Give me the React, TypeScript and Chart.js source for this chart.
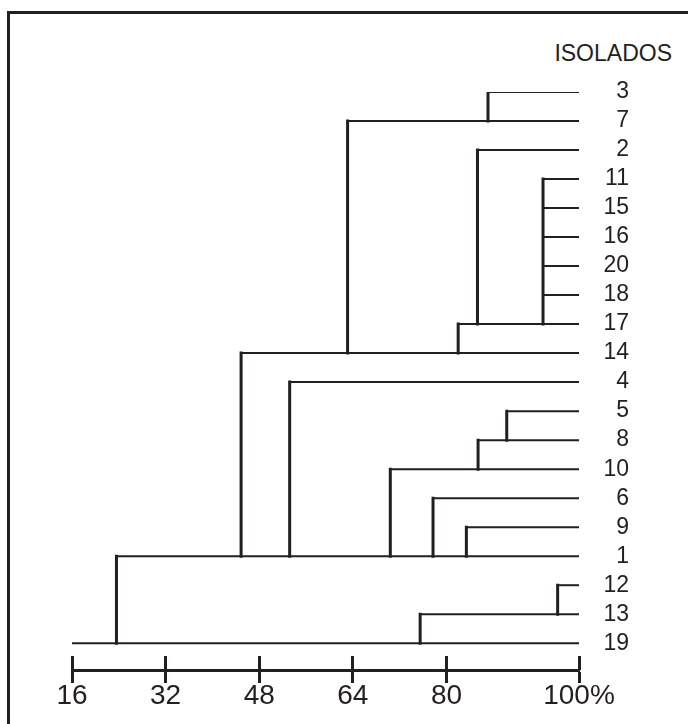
import React, { useEffect, useRef } from 'react';
import { Chart, registerables } from 'chart.js';

Chart.register(...registerables);

// Leaves (isolates), top to bottom
const LEAVES = ['3', '7', '2', '11', '15', '16', '20', '18', '17', '14', '4', '5', '8', '10', '6', '9', '1', '12', '13', '19'];

// Merge (similarity) levels and the rows they join
const MERGE_HEIGHTS = [87.1, 96.5, 85.3, 82.0, 63.1, 90.3, 85.4, 70.4, 77.7, 83.4, 53.2, 44.9, 99.0, 75.5, 23.6];
const MERGE_MEMBERS = [
  ['3', '7'],
  ['11', '15', '16', '20', '18', '17'],
  ['2', '17'],
  ['17', '14'],
  ['7', '14'],
  ['5', '8'],
  ['8', '10'],
  ['10', '1'],
  ['6', '1'],
  ['9', '1'],
  ['4', '1'],
  ['14', '1'],
  ['12', '13'],
  ['13', '19'],
  ['1', '19'],
];

// Root stem runs along this row back to the axis origin
const STEM_ROW = '19';
const STEM_START = 16;
// Leaves end at the "100%" mark
const LEAF_END = 102.65;

const TICK_VALUES = [16, 32, 48, 64, 80, 102.65];
const TICK_LABELS = ['16', '32', '48', '64', '80', '100%'];
const HEADER = 'ISOLADOS';

const INK = '#231f20';
const FONT = '"Liberation Sans", Arial, Helvetica, sans-serif';

export default function App() {
  const canvasRef = useRef<HTMLCanvasElement | null>(null);

  useEffect(() => {
    const canvas = canvasRef.current;
    if (!canvas) return;

    const rowOf = (name: string) => LEAVES.indexOf(name);
    const common = {
      showLine: true,
      pointRadius: 0,
      pointHoverRadius: 0,
      borderColor: INK,
      backgroundColor: INK,
      fill: false,
      xAxisID: 'x',
      yAxisID: 'y',
    };

    const verticals = MERGE_HEIGHTS.map((h, i) => {
      const rows = MERGE_MEMBERS[i].map(rowOf);
      return {
        ...common,
        borderWidth: 3,
        borderCapStyle: 'square' as const,
        data: [
          { x: h, y: Math.min(...rows) },
          { x: h, y: Math.max(...rows) },
        ],
      };
    });

    const horizontals = LEAVES.map((name, r) => {
      let start = Math.min(
        ...MERGE_HEIGHTS.filter((_, i) => MERGE_MEMBERS[i].includes(name))
      );
      if (name === STEM_ROW) start = STEM_START;
      return {
        ...common,
        borderWidth: 2,
        data: [
          { x: start, y: r },
          { x: LEAF_END, y: r },
        ],
      };
    });

    const setXTicks = (s: any) => {
      s.ticks = TICK_VALUES.map((v) => ({ value: v }));
    };

    const chart = new Chart(canvas, {
      type: 'scatter',
      data: { datasets: [...horizontals, ...verticals] as any },
      options: {
        responsive: false,
        animation: false,
        devicePixelRatio: 1,
        events: [],
        layout: { padding: { left: 72, top: 92, right: 59, bottom: 0 } },
        plugins: {
          legend: { display: false },
          tooltip: { enabled: false },
          title: { display: false },
        },
        scales: {
          x: {
            type: 'linear',
            position: 'bottom',
            weight: 1,
            min: STEM_START,
            max: LEAF_END,
            afterBuildTicks: setXTicks,
            afterFit: (s: any) => {
              s.height = 54;
            },
            grid: {
              display: true,
              drawOnChartArea: false,
              drawTicks: true,
              tickLength: 13,
              tickWidth: 3,
              tickColor: INK,
            },
            border: { display: true, width: 3, color: INK },
            ticks: {
              color: INK,
              font: { family: FONT, size: 28 },
              padding: -4,
              maxRotation: 0,
              minRotation: 0,
              autoSkip: false,
              callback: (_v: any, i: number) => TICK_LABELS[i],
            },
          },
          xUp: {
            type: 'linear',
            axis: 'x',
            position: 'bottom',
            weight: 0,
            min: STEM_START,
            max: LEAF_END,
            afterBuildTicks: setXTicks,
            afterFit: (s: any) => {
              s.height = 14;
            },
            grid: {
              display: true,
              drawOnChartArea: false,
              drawTicks: true,
              tickLength: 14,
              tickWidth: 3,
              tickColor: INK,
            },
            border: { display: false },
            ticks: { display: false },
          },
          y: {
            type: 'linear',
            position: 'right',
            reverse: true,
            min: 0,
            max: 19.44,
            afterBuildTicks: (s: any) => {
              s.ticks = LEAVES.map((_, i) => ({ value: i }));
            },
            afterFit: (s: any) => {
              s.width = 50;
            },
            grid: { display: false, drawTicks: false },
            border: { display: false },
            ticks: {
              crossAlign: 'far',
              padding: 25,
              color: INK,
              autoSkip: false,
              font: { family: FONT, size: 23 },
              callback: (v: any) => LEAVES[v as number],
            },
          },
        } as any,
      },
    });

    return () => chart.destroy();
  }, []);

  return (
    <div
      style={{
        position: 'absolute',
        left: 0,
        top: 0,
        width: 688,
        height: 724,
        background: '#ffffff',
        overflow: 'hidden',
      }}
    >
      <div
        style={{
          position: 'absolute',
          left: 7,
          top: 11,
          width: 720,
          height: 760,
          borderTop: `3px solid ${INK}`,
          borderLeft: `3px solid ${INK}`,
        }}
      />
      <div
        style={{
          position: 'absolute',
          right: 16,
          top: 42,
          fontFamily: FONT,
          fontSize: 23,
          lineHeight: '23px',
          color: INK,
          whiteSpace: 'nowrap',
        }}
      >
        {HEADER}
      </div>
      <canvas
        ref={canvasRef}
        width={688}
        height={724}
        style={{ position: 'absolute', left: 0, top: 0, width: 688, height: 724 }}
      />
    </div>
  );
}
